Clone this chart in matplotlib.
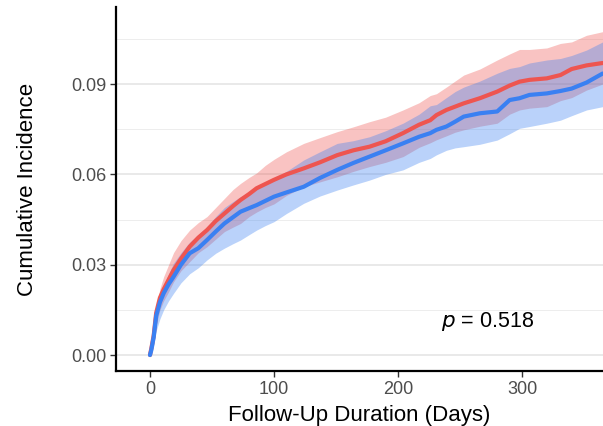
import matplotlib
matplotlib.use("Agg")
import matplotlib.pyplot as plt
from matplotlib.ticker import FixedLocator

days = [0, 1, 3, 5, 8, 11, 15, 19, 25, 32, 39, 46, 53, 60, 67, 73, 80, 86, 93, 100,
        110, 124, 137, 151, 164, 177, 190, 204, 217, 226, 231, 239, 246, 253, 266,
        280, 290, 298, 306, 320, 331, 340, 352, 365]

red_est = [0, 0.002, 0.0065, 0.014, 0.019, 0.0218, 0.025, 0.0282, 0.032, 0.036, 0.039,
           0.0415, 0.0445, 0.047, 0.0495, 0.0515, 0.0535, 0.0554, 0.0568, 0.0582,
           0.060, 0.062, 0.064, 0.0664, 0.068, 0.0692, 0.071, 0.0737, 0.0765, 0.078,
           0.0797, 0.0814, 0.0825, 0.0836, 0.0853, 0.0875, 0.0895, 0.0908, 0.0914,
           0.0919, 0.093, 0.095, 0.0962, 0.097]
red_upper = [0, 0.003, 0.009, 0.016, 0.022, 0.026, 0.030, 0.034, 0.038, 0.0415, 0.044,
             0.046, 0.049, 0.052, 0.055, 0.057, 0.059, 0.0605, 0.063, 0.065,
             0.0675, 0.0703, 0.0722, 0.0742, 0.0758, 0.0775, 0.079, 0.0814, 0.0838,
             0.0862, 0.0868, 0.089, 0.091, 0.093, 0.095, 0.098, 0.100, 0.1015, 0.1015,
             0.102, 0.1035, 0.104, 0.1062, 0.1074]
red_lower = [0, 0.001, 0.004, 0.010, 0.015, 0.018, 0.021, 0.0243, 0.028, 0.031, 0.034,
             0.036, 0.0385, 0.041, 0.0425, 0.0437, 0.046, 0.0475, 0.049, 0.0502,
             0.053, 0.0559, 0.0575, 0.0592, 0.061, 0.0626, 0.064, 0.0659, 0.069,
             0.0705, 0.0715, 0.0728, 0.074, 0.0748, 0.076, 0.077, 0.080, 0.0814,
             0.082, 0.0825, 0.0845, 0.0855, 0.088, 0.090]

blue_est = [0, 0.0015, 0.006, 0.013, 0.0175, 0.0205, 0.0235, 0.026, 0.030, 0.0338,
            0.0355, 0.0382, 0.041, 0.0437, 0.0458, 0.0476, 0.0488, 0.0498, 0.0512,
            0.0526, 0.054, 0.0559, 0.0588, 0.0615, 0.0638, 0.0659, 0.068, 0.0703,
            0.0725, 0.0737, 0.0748, 0.0759, 0.0775, 0.0792, 0.0803, 0.0809, 0.0847,
            0.0853, 0.0864, 0.0869, 0.0877, 0.0885, 0.0905, 0.0935]
blue_upper = [0, 0.0025, 0.008, 0.015, 0.020, 0.023, 0.027, 0.0305, 0.034, 0.0375,
              0.040, 0.0426, 0.046, 0.049, 0.051, 0.0526, 0.054, 0.0555, 0.057,
              0.0585, 0.061, 0.0648, 0.0675, 0.0703, 0.0712, 0.0725, 0.0745, 0.077,
              0.080, 0.0828, 0.0832, 0.0855, 0.0875, 0.089, 0.091, 0.0936, 0.0952,
              0.0958, 0.097, 0.098, 0.0985, 0.0995, 0.1013, 0.104]
blue_lower = [0, 0.0008, 0.003, 0.008, 0.012, 0.015, 0.018, 0.0205, 0.024, 0.027,
              0.029, 0.0316, 0.0338, 0.0355, 0.037, 0.0382, 0.040, 0.0415, 0.043,
              0.0443, 0.047, 0.0504, 0.0528, 0.0548, 0.0565, 0.0581, 0.060, 0.0615,
              0.064, 0.0653, 0.0665, 0.068, 0.0688, 0.0692, 0.070, 0.0714, 0.0735,
              0.0753, 0.0759, 0.077, 0.078, 0.0795, 0.0814, 0.0825]

x_ticks = [0, 100, 200, 300]
y_ticks = [0.00, 0.03, 0.06, 0.09]
y_tick_labels = ["0.00", "0.03", "0.06", "0.09"]
p_label = "0.518"

RED = "#EE5550"
BLUE = "#3A80F2"

plt.rcParams['font.family'] = ['Liberation Sans', 'DejaVu Sans']

fig = plt.figure(figsize=(6.03, 4.26), dpi=100)
ax = fig.add_axes([116/603, 55/426, 1 - 116/603, (371 - 7)/426])

ax.fill_between(days, red_lower, red_upper, color=RED, alpha=0.35, linewidth=0)
ax.fill_between(days, blue_lower, blue_upper, color=BLUE, alpha=0.35, linewidth=0)
ax.plot(days, red_est, color=RED, linewidth=3.0, solid_capstyle='round')
ax.plot(days, blue_est, color=BLUE, linewidth=3.0, solid_capstyle='round')

ax.set_xlim(-27.4, 365.3)
ax.set_ylim(-0.0053, 0.1156)

ax.yaxis.set_major_locator(FixedLocator(y_ticks))
ax.set_yticklabels(y_tick_labels)
ax.yaxis.set_minor_locator(FixedLocator([0.015, 0.045, 0.075, 0.105]))
ax.xaxis.set_major_locator(FixedLocator(x_ticks))

ax.grid(axis='y', which='major', color='#e3e3e3', linewidth=1.1)
ax.grid(axis='y', which='minor', color='#ededed', linewidth=0.7)
ax.set_axisbelow(True)
ax.tick_params(axis='y', which='minor', length=0)
ax.tick_params(which='major', length=4, width=1.0, color='#333333',
               labelsize=13, labelcolor='#4d4d4d', pad=3)

for s in ['top', 'right']:
    ax.spines[s].set_visible(False)
for s in ['left', 'bottom']:
    ax.spines[s].set_linewidth(1.6)
    ax.spines[s].set_color('black')

ax.set_xlabel("Follow-Up Duration (Days)", fontsize=16, labelpad=5)
ax.set_ylabel("Cumulative Incidence", fontsize=16, labelpad=24)

ax.text(272, 0.0113, r"$\it{p}$ = " + p_label, fontsize=15.5, ha='center', va='center')

fig.savefig("out.png", dpi=100)
